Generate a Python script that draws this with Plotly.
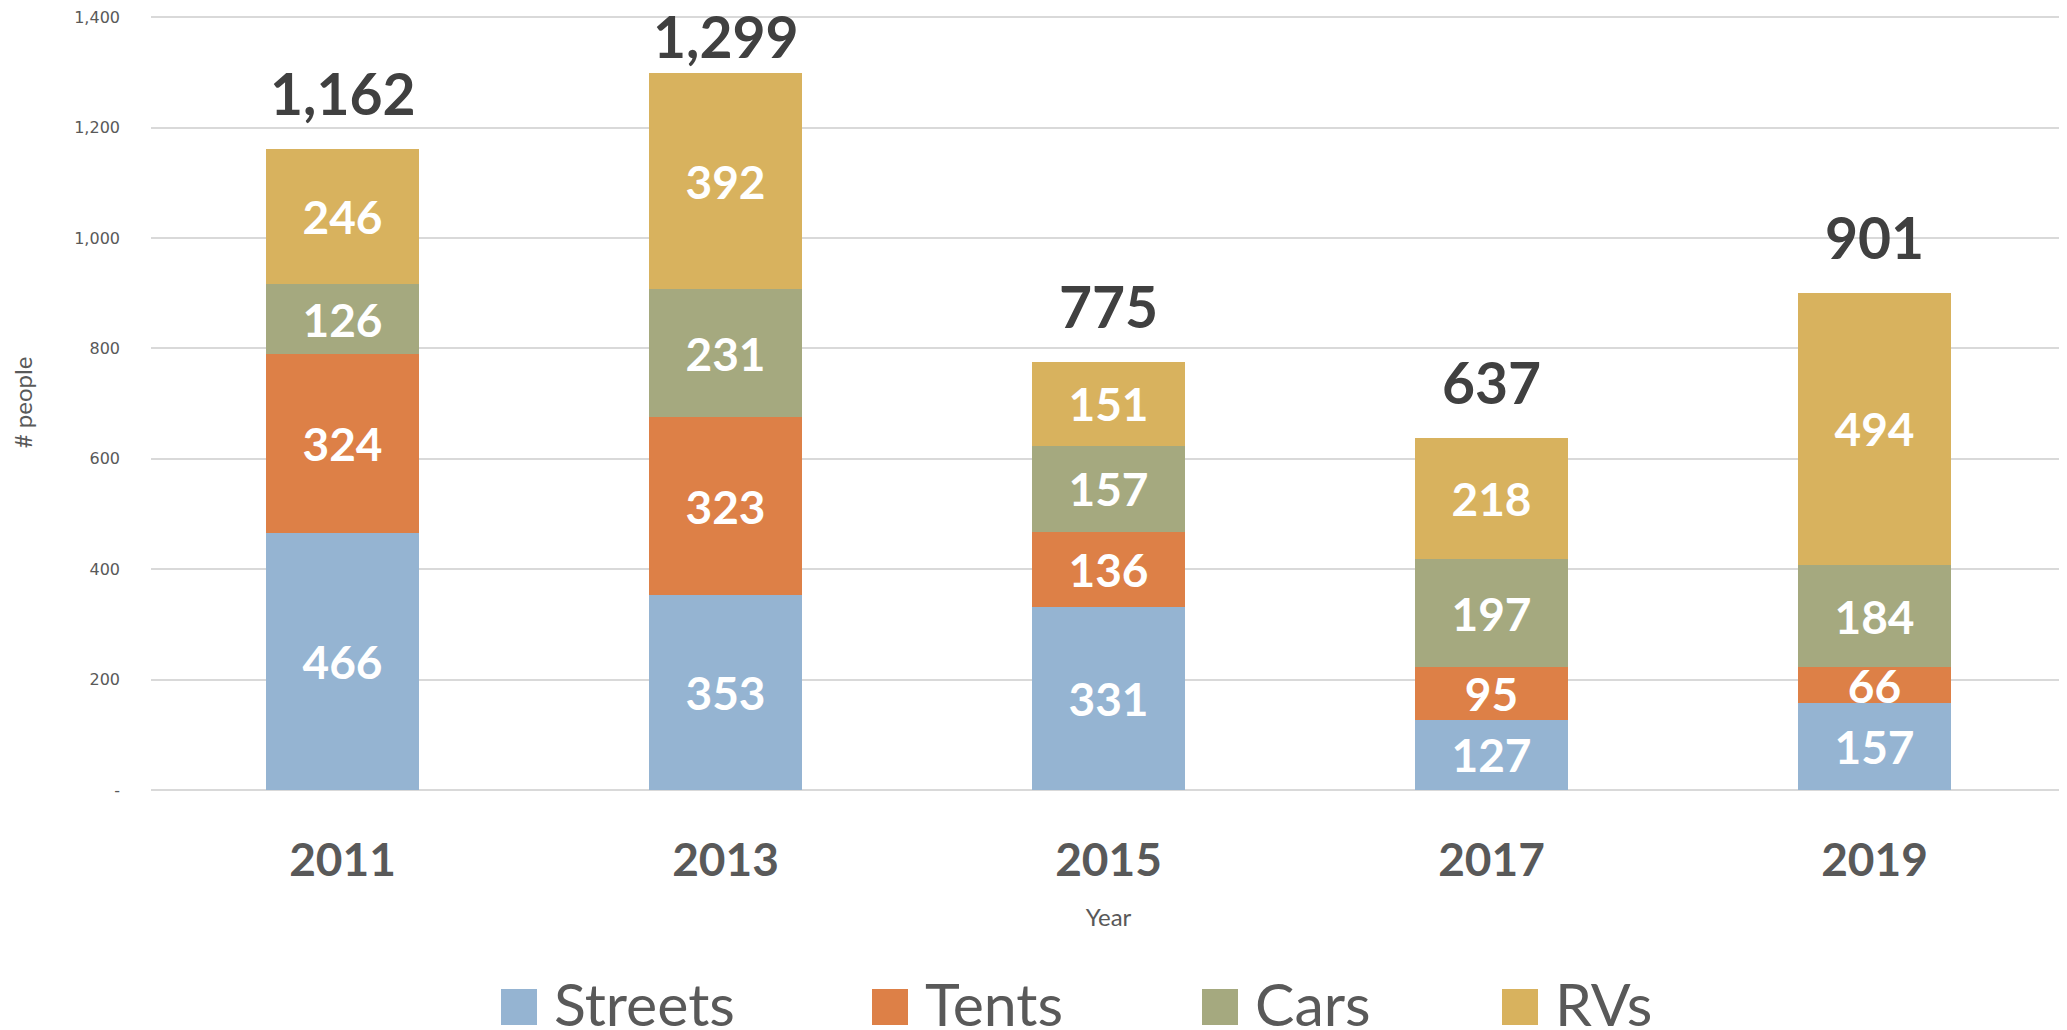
import plotly.graph_objects as go

years = ["2011", "2013", "2015", "2017", "2019"]
series_names = ["Streets", "Tents", "Cars", "RVs"]
streets = [466, 353, 331, 127, 157]
tents = [324, 323, 136, 95, 66]
cars = [126, 231, 157, 197, 184]
rvs = [246, 392, 151, 218, 494]
colors = ["#95B4D2", "#DD8047", "#A5A97F", "#D8B25E"]
y_tickvals = [0, 200, 400, 600, 800, 1000, 1200, 1400]
y_ticktext = ["-", "200", "400", "600", "800", "1,000", "1,200", "1,400"]

series_values = [streets, tents, cars, rvs]
totals = [sum(v) for v in zip(*series_values)]

OFF = 8  # default page body margin
Y_MAX = 1404
W, H = 2067 - OFF, 1030 - OFF
ML, MR, MT, MB = 151 - OFF, 1, 7, 240
PW = W - ML - MR
PH = H - MT - MB


def px_x(px):
    return (px - OFF - ML) / PW


def px_y(py):
    return (MT + PH - (py - OFF)) / PH


fig = go.Figure()
for name, vals, col in zip(series_names, series_values, colors):
    fig.add_trace(go.Bar(
        x=years, y=vals, name=name, marker=dict(color=col, line=dict(width=0)),
        text=[f"{v:,}" for v in vals], textposition="inside", textangle=0,
        insidetextanchor="middle", constraintext="none",
        textfont=dict(family="Lato", size=46, color="white", weight="bold"),
        showlegend=False,
    ))

# total labels above the stacks (kept below the top edge of the chart)
px_per_unit = PH / Y_MAX
for i, tot in enumerate(totals):
    bar_top = MT + PH - tot * px_per_unit + OFF  # page y of the stack top
    centre = max(bar_top - 56, 36)
    fig.add_annotation(x=i, y=tot, xref="x", yref="y", text=f"{tot:,}",
                       showarrow=False, yanchor="middle", yshift=bar_top - centre,
                       font=dict(family="Lato", size=57, color="#404040", weight="bold"))

# custom legend (large swatches)
leg_sq_x = [501, 872, 1202, 1502]
sq = 36
sq_top, sq_bot = 989, 1025
for name, col, px in zip(series_names, colors, leg_sq_x):
    fig.add_shape(type="rect", xref="paper", yref="paper",
                  x0=px_x(px), x1=px_x(px + sq),
                  y0=px_y(sq_bot), y1=px_y(sq_top),
                  fillcolor=col, line=dict(width=0))
    fig.add_annotation(xref="paper", yref="paper",
                       x=px_x(px + sq + 15), y=px_y(1003),
                       text=name, showarrow=False, xanchor="left", yanchor="middle",
                       font=dict(family="Lato", size=59, color="#595959"))

fig.update_layout(
    width=W, height=H,
    margin=dict(l=ML, r=MR, t=MT, b=MB, autoexpand=False),
    barmode="stack", bargap=0.6,
    plot_bgcolor="white", paper_bgcolor="white",
    uniformtext=dict(minsize=46, mode="show"),
    xaxis=dict(
        type="category", range=[-0.5, len(years) - 0.5],
        showgrid=False, showline=False, ticks="",
        tickfont=dict(family="Lato", size=46, color="#595959", weight="bold"),
        ticklabelstandoff=39,
        title=dict(text="Year", font=dict(family="Lato", size=24, color="#595959"), standoff=24),
    ),
    yaxis=dict(
        range=[0, Y_MAX], tickvals=y_tickvals, ticktext=y_ticktext,
        showgrid=True, gridcolor="#D9D9D9", gridwidth=1.5,
        zeroline=True, zerolinecolor="#D9D9D9", zerolinewidth=1.5,
        showline=False, ticks="", ticklabeloverflow="allow",
        tickfont=dict(family="DejaVu Sans", size=16, color="#595959"),
        ticklabelstandoff=30,
        title=dict(text="# people", font=dict(family="Lato", size=24, color="#595959"), standoff=34),
    ),
)

fig.write_html("out.html")
